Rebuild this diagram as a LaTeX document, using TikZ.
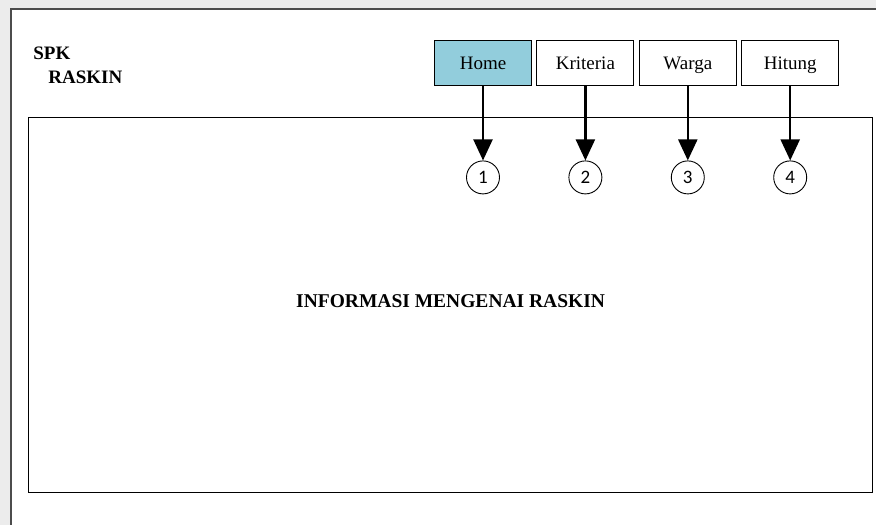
\documentclass[tikz,border=0pt]{standalone}
\usepackage{fontspec}
\setmainfont{Liberation Serif}
\newfontfamily\numfont{Carlito}
\usetikzlibrary{
  calc,
  positioning,
  arrows.meta}
\definecolor{biru}{RGB}{146,205,220}

\begin{document}
\begin{tikzpicture}[
  x=1pt,y=-1pt,
  >={Triangle[length=21pt,width=19pt]},
  line width=0.75pt,
  menu/.style={draw,line width=0.9pt,minimum width=97pt,minimum height=45pt,inner sep=0pt,
    text height=17pt,text depth=4pt,font=\fontsize{19}{21}\selectfont},
  nomor/.style={draw,circle,line width=0.9pt,minimum size=33pt,inner sep=0pt,
    font=\numfont\fontsize{19}{21}\selectfont},
  judul/.style={inner sep=0pt,anchor=base west,font=\bfseries\fontsize{19}{22}\selectfont},
  node distance=4.5pt
]%
  \useasboundingbox (0,0) rectangle (876,525);
  % latar dan bingkai halaman
  \fill[gray!15] (0,0) rectangle (880,530);
  \fill[white] (11,9) rectangle (880,530);
  \draw[black!70,line width=2.5pt] (11,530) -- (11,9) -- (880,9);

  \node[judul] (spk)    at (33,59) {SPK};
  \node[judul] (raskin) at (48,83) {RASKIN};

  % kotak isi
  \node[draw,line width=1.2pt,anchor=north west,minimum width=844pt,minimum height=375pt] (isi) at (28,117) {};
  \node[font=\bfseries\fontsize{19.5}{22}\selectfont,yshift=3.5pt] (info) at (isi.center) {INFORMASI MENGENAI RASKIN};

  % menu
  \node[menu,fill=biru]         (home)     at (483,62.5) {Home};
  \node[menu,right=of home]     (kriteria) {Kriteria};
  \node[menu,right=of kriteria] (warga)    {Warga};
  \node[menu,right=of warga]    (hitung)   {Hitung};

  \node[nomor,below=75pt of home]     (n1) {1};
  \node[nomor,below=75pt of kriteria] (n2) {2};
  \node[nomor,below=75pt of warga]    (n3) {3};
  \node[nomor,below=75pt of hitung]   (n4) {4};

  \draw[->,line width=2.2pt] (home.south)     -- (n1.north);
  \draw[->,line width=2.2pt] (kriteria.south) -- (n2.north);
  \draw[->,line width=2.2pt] (warga.south)    -- (n3.north);
  \draw[->,line width=2.2pt] (hitung.south)   -- (n4.north);

\end{tikzpicture}
\end{document}
